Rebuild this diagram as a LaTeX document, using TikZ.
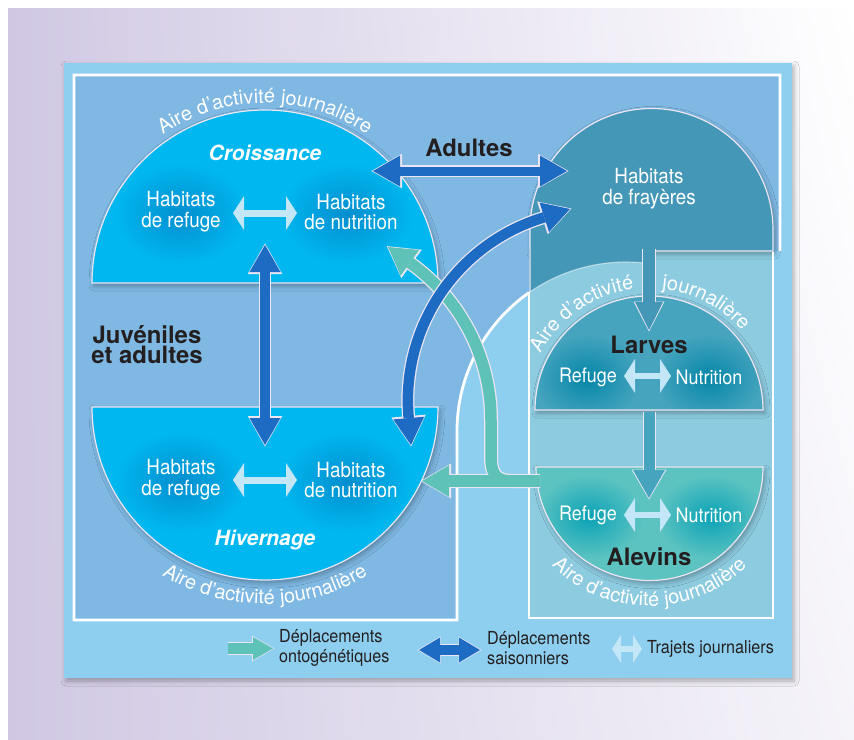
\documentclass[tikz,border=0pt]{standalone}
\usepackage{fontspec}
\setmainfont{TeX Gyre Heros}
\newfontfamily\etroit[FakeStretch=0.9]{TeX Gyre Heros}
\usetikzlibrary{arrows.meta,decorations.text,shadows.blur,shadings}

\definecolor{lavande}{HTML}{D0C8E3}
\definecolor{panneau}{HTML}{8ECFF0}
\definecolor{fonce}{HTML}{7EB8E3}
\definecolor{cyanvif}{HTML}{00B8EF}
\definecolor{cyanblob}{HTML}{038ECF}
\definecolor{frayere}{HTML}{4597B8}
\definecolor{boiteclair}{HTML}{8DCBE0}
\definecolor{larve}{HTML}{46A4BE}
\definecolor{larveblob}{HTML}{0586A8}
\definecolor{alevin}{HTML}{5CC3C1}
\definecolor{alevinblob}{HTML}{0AA2B6}
\definecolor{saison}{HTML}{1D6BC2}
\definecolor{onto}{HTML}{5EC2B8}
\definecolor{trajet}{HTML}{C4E7F8}
\definecolor{liseret}{HTML}{ECE6F3}
\definecolor{encre}{HTML}{231F20}

\begin{document}
\begin{tikzpicture}[x=1bp,y=-1bp]
\tikzset{ombre/.style={blur shadow={shadow xshift=2bp,shadow yshift=-3bp,shadow blur radius=5bp,shadow opacity=30}}}
\tikzset{liseret/.style={draw=liseret,line width=1.2bp}}
\tikzset{cadre/.style={draw=white,line width=2.8bp}}
\tikzset{titre/.style={inner sep=0pt,font=\bfseries\fontsize{24}{20}\selectfont,text=encre,align=center}}
\tikzset{saison/.style={inner sep=0pt,font=\bfseries\itshape\fontsize{21}{22}\selectfont,text=white}}
\tikzset{habitat/.style={inner sep=0pt,font=\etroit\fontsize{21}{21}\selectfont,text=white,align=center}}
\tikzset{milieu/.style={inner sep=0pt,font=\etroit\fontsize{20}{20}\selectfont,text=white}}
\tikzset{legende/.style={inner sep=0pt,anchor=west,font=\etroit\fontsize{18}{20}\selectfont,text=encre,align=left}}
\tikzset{aire/.style={decorate,decoration={text along path,text align=center,text color=white,
  text={|\fontsize{20}{20}\selectfont|Aire d’activité journalière}}}}
\tikzset{saisonBord/.style={draw=liseret,line width=11.5bp,shorten <=-1.5bp,shorten >=-1.5bp,
  arrows={Triangle[width=34.5bp,length=30.5bp,line width=0pt]-Triangle[width=34.5bp,length=30.5bp,line width=0pt]}}}
\tikzset{saisonCorps/.style={draw=saison,line width=9bp,
  arrows={Triangle[width=31bp,length=27bp,line width=0pt]-Triangle[width=31bp,length=27bp,line width=0pt]}}}
\tikzset{ontoBord/.style={draw=liseret,line width=14bp,shorten >=-1.5bp,
  arrows={-Triangle[width=35bp,length=30.5bp,line width=0pt]}}}
\tikzset{ontoCorps/.style={draw=onto,line width=11.5bp,
  arrows={-Triangle[width=31.5bp,length=27bp,line width=0pt]}}}
\tikzset{trajet/.style={draw=trajet,line width=7bp,
  arrows={Triangle[width=34bp,length=11bp,line width=0pt]-Triangle[width=34bp,length=11bp,line width=0pt]}}}

\useasboundingbox (0,0) rectangle (854,740);

% fond et panneau
\fill[white] (0,0) rectangle (854,740);
\shade[upper left=lavande,lower left=lavande,upper right=white,lower right=lavande!20] (8,9) rectangle (854,740);
\fill[panneau,ombre] (64,63) rectangle (792,678);
\fill[fonce] (74,75) -- (780,75) -- (780,251) -- (529,251) -- (529,620) -- (74,620) -- cycle;
\fill[panneau] (457,620) -- (457,431) arc[start angle=180,end angle=235,radius=169] -- (529,620) -- cycle;
\fill[boiteclair] (529,251) rectangle (773,618);

% habitats de frayeres
\fill[frayere,ombre] (530,251) -- (530,230) arc[start angle=180,end angle=360,radius=121.5] -- (773,251) -- cycle;
\fill[frayere] (529,250) -- (529,292.6) arc[start angle=235,end angle=275.8,radius=169] -- (643,250) -- cycle;
\draw[white,line width=1.2bp,opacity=.5] (529,292.6) arc[start angle=235,end angle=275.8,radius=169];
\draw[liseret] (530,292) -- (530,230) arc[start angle=180,end angle=360,radius=121.5] -- (773,251) -- (655,251);

% cadre blanc
\draw[cadre] (780,251) -- (780,75) -- (74,75) -- (74,620) -- (457,620) -- (457,431) arc[start angle=180,end angle=235,radius=169];
\draw[cadre,line width=2bp] (529,292) -- (529,618) -- (773,618) -- (773,252);

% croissance
\fill[cyanvif,ombre] (92,283) arc[start angle=180,end angle=360,radius=173] -- cycle;
\begin{scope}
\clip (92,283) arc[start angle=180,end angle=360,radius=173] -- cycle;
\shade[inner color=cyanblob,outer color=cyanvif] (181,214) ellipse[x radius=68,y radius=52];
\shade[inner color=cyanblob,outer color=cyanvif] (347,214) ellipse[x radius=68,y radius=52];
\end{scope}
\draw[liseret] (92,283) arc[start angle=180,end angle=360,radius=173] -- cycle;

% hivernage
\fill[cyanvif,ombre] (92,407) arc[start angle=180,end angle=0,radius=173] -- cycle;
\begin{scope}
\clip (92,407) arc[start angle=180,end angle=0,radius=173] -- cycle;
\shade[inner color=cyanblob,outer color=cyanvif] (181,482) ellipse[x radius=68,y radius=52];
\shade[inner color=cyanblob,outer color=cyanvif] (347,482) ellipse[x radius=68,y radius=52];
\end{scope}
\draw[liseret] (92,407) arc[start angle=180,end angle=0,radius=173] -- cycle;

% larves
\fill[larve,ombre] (535,410) arc[start angle=180,end angle=360,radius=114] -- cycle;
\begin{scope}
\clip (535,410) arc[start angle=180,end angle=360,radius=114] -- cycle;
\shade[inner color=larveblob,outer color=larve] (587,378) ellipse[x radius=54,y radius=44];
\shade[inner color=larveblob,outer color=larve] (709,378) ellipse[x radius=54,y radius=44];
\end{scope}
\draw[liseret] (535,410) arc[start angle=180,end angle=360,radius=114] -- cycle;

% alevins
\fill[alevin,ombre] (536,467) arc[start angle=180,end angle=0,radius=113.5] -- cycle;
\begin{scope}
\clip (536,467) arc[start angle=180,end angle=0,radius=113.5] -- cycle;
\shade[inner color=alevinblob,outer color=alevin] (589,517) ellipse[x radius=54,y radius=42];
\shade[inner color=alevinblob,outer color=alevin] (711,517) ellipse[x radius=54,y radius=42];
\end{scope}
\draw[liseret] (536,467) arc[start angle=180,end angle=0,radius=113.5] -- cycle;

% aires d'activite
\path[aire] (265,283) ++(225:180) arc[start angle=225,end angle=315,radius=180];
\path[aire] (265,407) ++(135:197) arc[start angle=135,end angle=45,radius=197];
\path[aire] (649.5,467) ++(160:139) arc[start angle=160,end angle=20,radius=139];
\path[decorate,decoration={text along path,text align=right,text color=white,
  text={|\fontsize{20}{20}\selectfont|Aire d’activité}}] (649,410) ++(195:122) arc[start angle=195,end angle=263,radius=122];
\path[decorate,decoration={text along path,text align=left,text color=white,
  text={|\fontsize{20}{20}\selectfont|journalière}}] (649,410) ++(276:122) arc[start angle=276,end angle=345,radius=122];

% descentes frayeres -> larves -> alevins
\coordinate (frayBas) at (649,249);
\coordinate (larvesHaut) at (649,330);
\coordinate (larvesBas) at (649,412);
\coordinate (alevinsHaut) at (649,498);
\draw[draw=liseret,line width=14bp,shorten >=-1.5bp,-{Triangle[width=31bp,length=30bp,line width=0pt]}] (frayBas) -- (larvesHaut);
\draw[draw=frayere,line width=12bp,-{Triangle[width=28bp,length=28bp,line width=0pt]}] (frayBas) -- (larvesHaut);
\draw[draw=liseret,line width=13bp,shorten >=-1.5bp,-{Triangle[width=35bp,length=30bp,line width=0pt]}] (larvesBas) -- (alevinsHaut);
\draw[draw=larve,line width=11bp,-{Triangle[width=32bp,length=28bp,line width=0pt]}] (larvesBas) -- (alevinsHaut);

% deplacements ontogenetiques
\coordinate (ontoDepart) at (540,481);
\coordinate (ontoFin) at (422,481);
\coordinate (ontoHaut) at (388,247);
\draw[ontoBord] (ontoDepart) -- (ontoFin);
\draw[ontoBord] (ontoDepart) -- (512,481) .. controls (494,481) and (491,472) .. (491,455) -- (491,420)
  arc[start angle=0,end angle=-54.4,radius=193] -- (ontoHaut);
\draw[ontoCorps] (ontoDepart) -- (ontoFin);
\draw[ontoCorps] (ontoDepart) -- (512,481) .. controls (494,481) and (491,472) .. (491,455) -- (491,420)
  arc[start angle=0,end angle=-54.4,radius=193] -- (ontoHaut);

% deplacements saisonniers
\coordinate (adultesG) at (373,171);
\coordinate (adultesD) at (567,171);
\coordinate (vertHaut) at (265,245);
\coordinate (vertBas) at (265,445);
\coordinate (saisonBas) at (411,445);
\coordinate (saisonHaut) at (570,209);
\draw[saisonBord] (adultesG) -- (adultesD);
\draw[saisonCorps] (adultesG) -- (adultesD);
\draw[saisonBord,line width=12.5bp] (vertHaut) -- (vertBas);
\draw[saisonCorps,line width=10bp] (vertHaut) -- (vertBas);
\draw[saisonBord,line width=13bp] (saisonBas) -- ++(-2.4,-28) arc[start angle=175,end angle=253,radius=191] -- (saisonHaut);
\draw[saisonCorps,line width=10.5bp] (saisonBas) -- ++(-2.4,-28) arc[start angle=175,end angle=253,radius=191] -- (saisonHaut);

% trajets journaliers
\coordinate (tCg) at (233,213);
\coordinate (tCd) at (297,213);
\coordinate (tHg) at (233,480);
\coordinate (tHd) at (297,480);
\coordinate (tLg) at (624,376);
\coordinate (tLd) at (671,376);
\coordinate (tAg) at (624,515);
\coordinate (tAd) at (671,515);
\draw[trajet] (tCg) -- (tCd);
\draw[trajet] (tHg) -- (tHd);
\draw[trajet,line width=5.5bp] (tLg) -- (tLd);
\draw[trajet,line width=5.5bp] (tAg) -- (tAd);

% textes
\node[saison] (croissance) at (265,153) {Croissance};
\node[habitat] (refugeC) at (181,212) {Habitats\\de refuge};
\node[habitat] (nutriC) at (351,212) {Habitats\\de nutrition};
\node[habitat] (refugeH) at (181,480) {Habitats\\de refuge};
\node[habitat] (nutriH) at (351,480) {Habitats\\de nutrition};
\node[saison] (hivernage) at (265,540) {Hivernage};
\node[titre] (juveniles) at (147,345) {Juvéniles\\et adultes};
\node[titre] (adultes) at (469,148) {Adultes};
\node[habitat] (frayeres) at (649,189) {Habitats\\de frayères};
\node[titre] (larves) at (649,345) {Larves};
\node[milieu] (refugeL) at (588,377) {Refuge};
\node[milieu] (nutriL) at (709,377) {Nutrition};
\node[milieu] (refugeA) at (588,515) {Refuge};
\node[milieu] (nutriA) at (709,515) {Nutrition};
\node[titre] (alevins) at (649,557) {Alevins};

% legende
\coordinate (legOntoG) at (228,648.5);
\coordinate (legOntoD) at (273,648.5);
\coordinate (legSaisonG) at (419,650);
\coordinate (legSaisonD) at (480,650);
\coordinate (legTrajetG) at (612,649);
\coordinate (legTrajetD) at (642,649);
\draw[draw=liseret,line width=12.5bp,shorten >=-1.2bp,-{Triangle[width=25.5bp,length=22bp,line width=0pt]}] (legOntoG) -- (legOntoD);
\draw[draw=onto,line width=10.5bp,-{Triangle[width=23bp,length=20bp,line width=0pt]}] (legOntoG) -- (legOntoD);
\draw[saisonBord,line width=11.5bp,arrows={Triangle[width=27bp,length=23bp,line width=0pt]-Triangle[width=27bp,length=23bp,line width=0pt]}] (legSaisonG) -- (legSaisonD);
\draw[saisonCorps,line width=9.5bp,arrows={Triangle[width=25bp,length=21bp,line width=0pt]-Triangle[width=25bp,length=21bp,line width=0pt]}] (legSaisonG) -- (legSaisonD);
\draw[trajet,line width=6bp,arrows={Triangle[width=28bp,length=9bp,line width=0pt]-Triangle[width=28bp,length=9bp,line width=0pt]}] (legTrajetG) -- (legTrajetD);
\node[legende] (legOnto) at (279,648) {Déplacements\\ontogénétiques};
\node[legende] (legSaison) at (487,648) {Déplacements\\saisonniers};
\node[legende] (legTrajet) at (647,649) {Trajets journaliers};

\end{tikzpicture}
\end{document}
